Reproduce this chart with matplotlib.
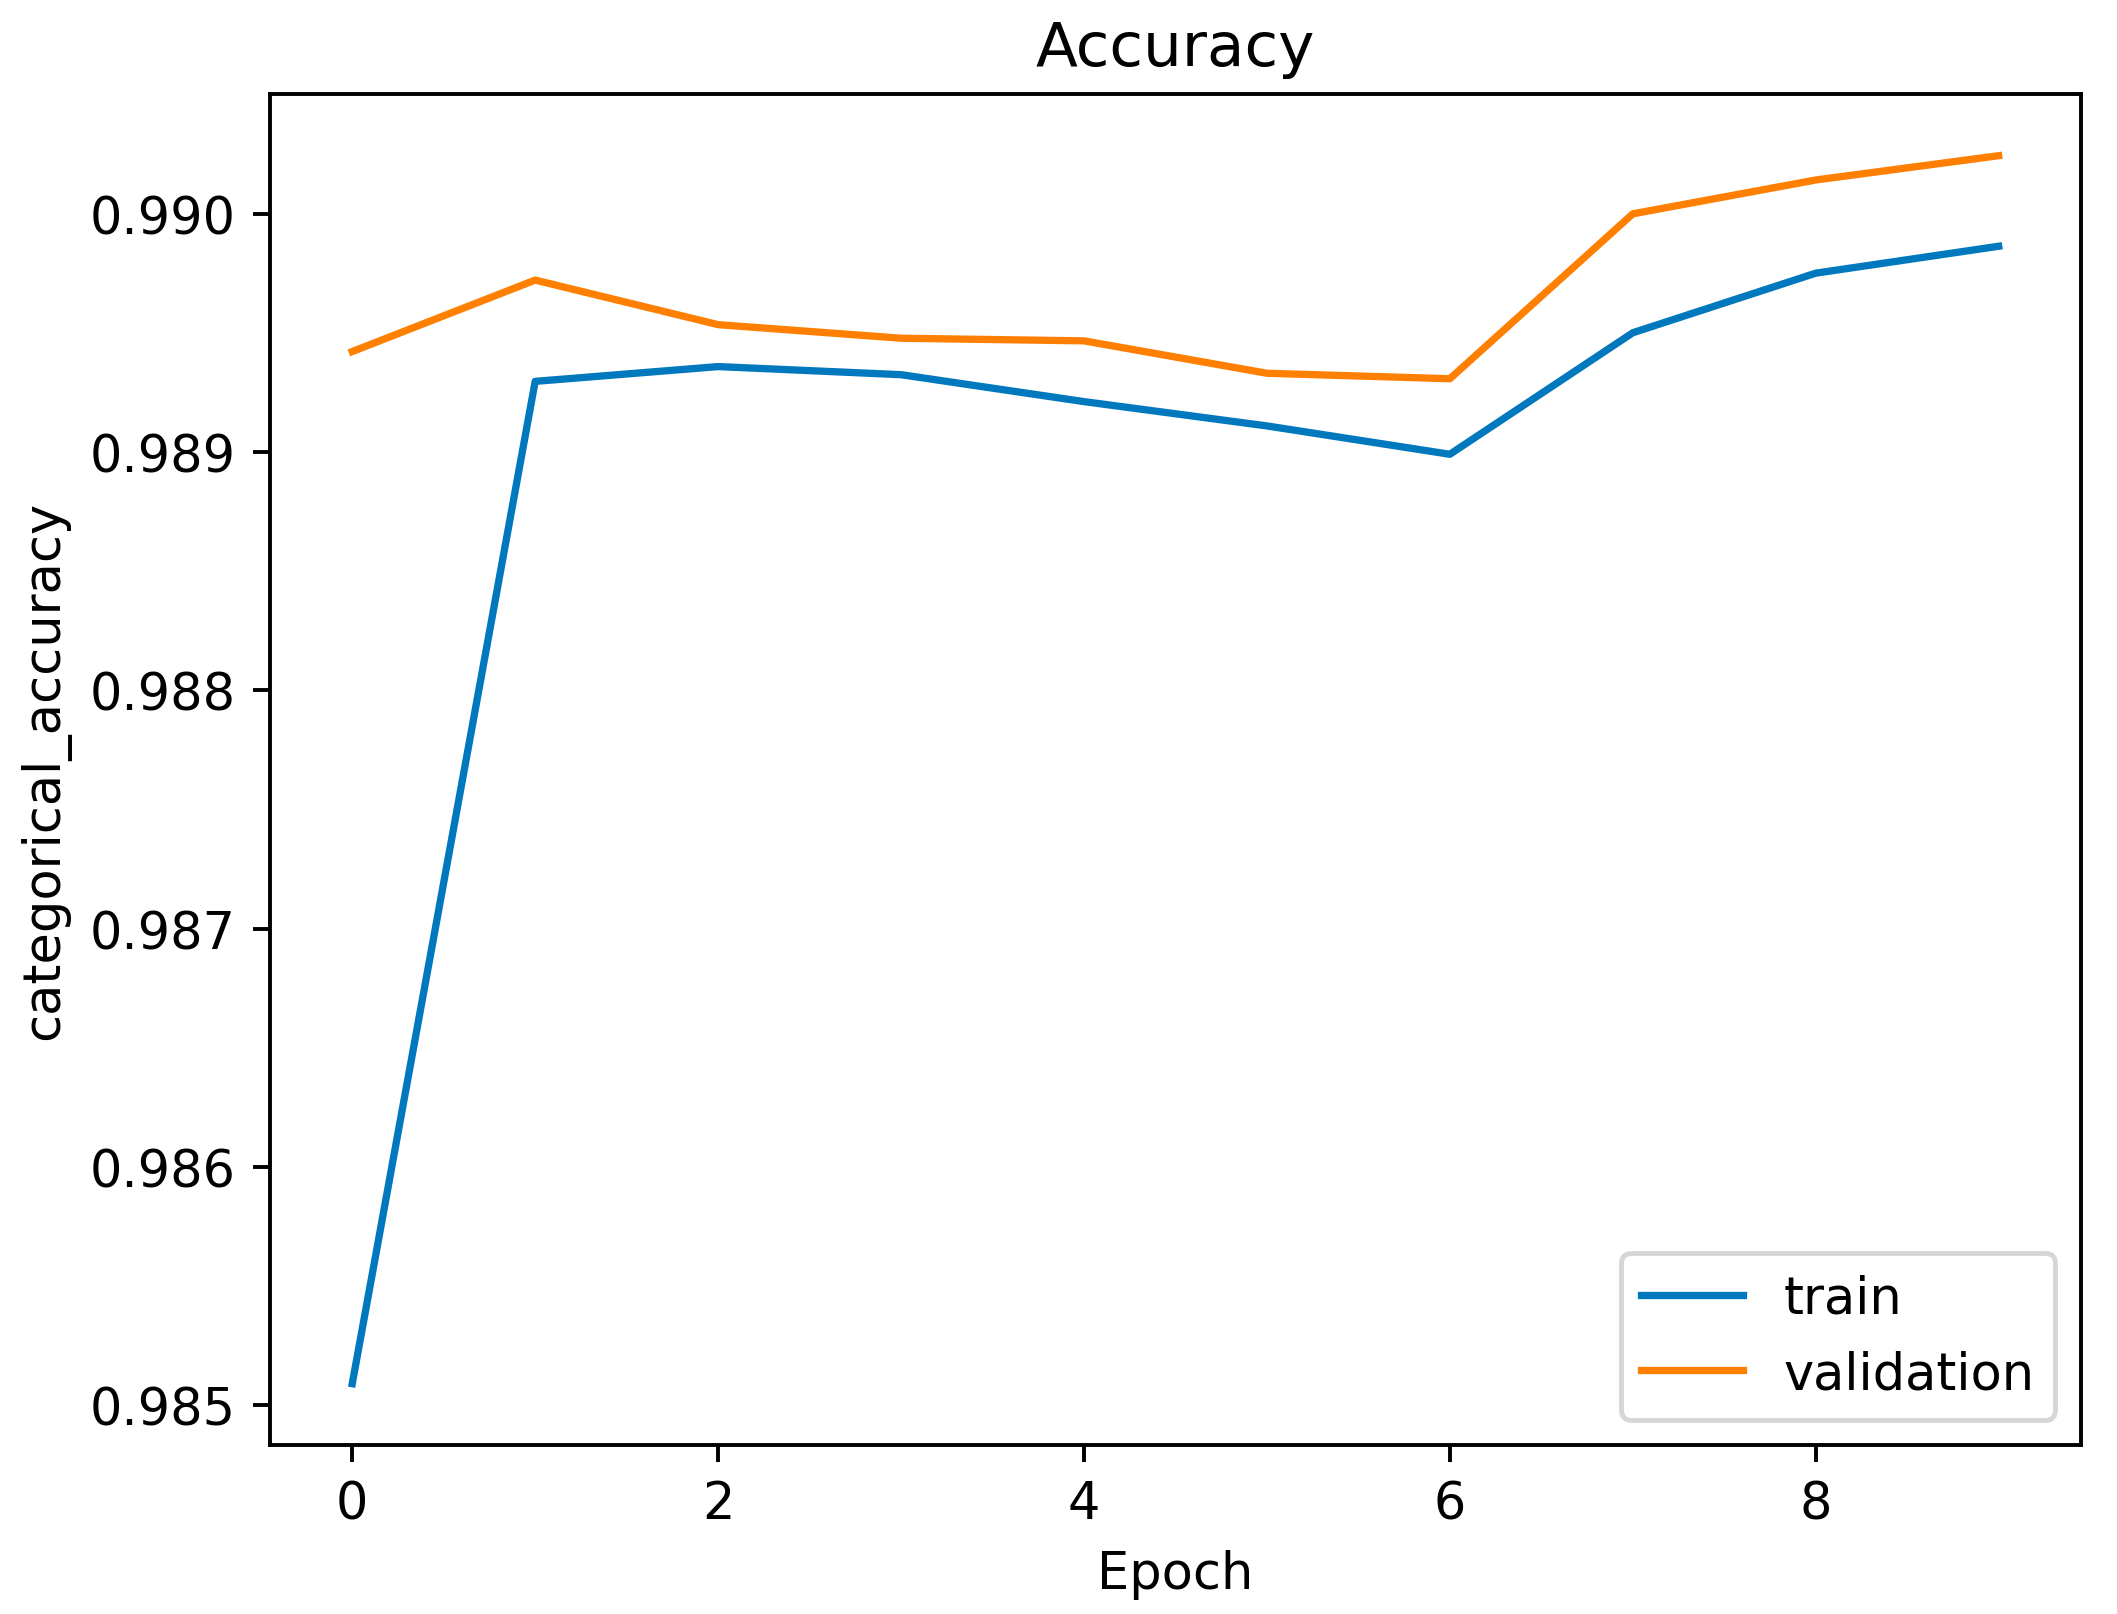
import matplotlib
matplotlib.use("Agg")
import matplotlib.pyplot as plt

epochs = list(range(10))
train = [0.985091, 0.989297, 0.989359, 0.989325, 0.989212, 0.989110, 0.988991, 0.989501, 0.989751, 0.989864]
validation = [0.989422, 0.989722, 0.989535, 0.989478, 0.989467, 0.989331, 0.989308, 0.990000, 0.990142, 0.990244]

plt.rcParams["font.size"] = 10.5

dpi = 350
fig = plt.figure(figsize=(2117 / dpi, 1615 / dpi), dpi=dpi)
ax = fig.add_axes([0.1275, 0.1046, 0.983 - 0.1275, 0.941 - 0.1046])
ax.plot(epochs, train, label="train", color="#0078bd")
ax.plot(epochs, validation, label="validation", color="#ff7f00")
ax.set_title("Accuracy")
ax.set_xlabel("Epoch")
ax.set_ylabel("categorical_accuracy")
ax.legend(loc="lower right")
fig.savefig("out.png", dpi=dpi)
